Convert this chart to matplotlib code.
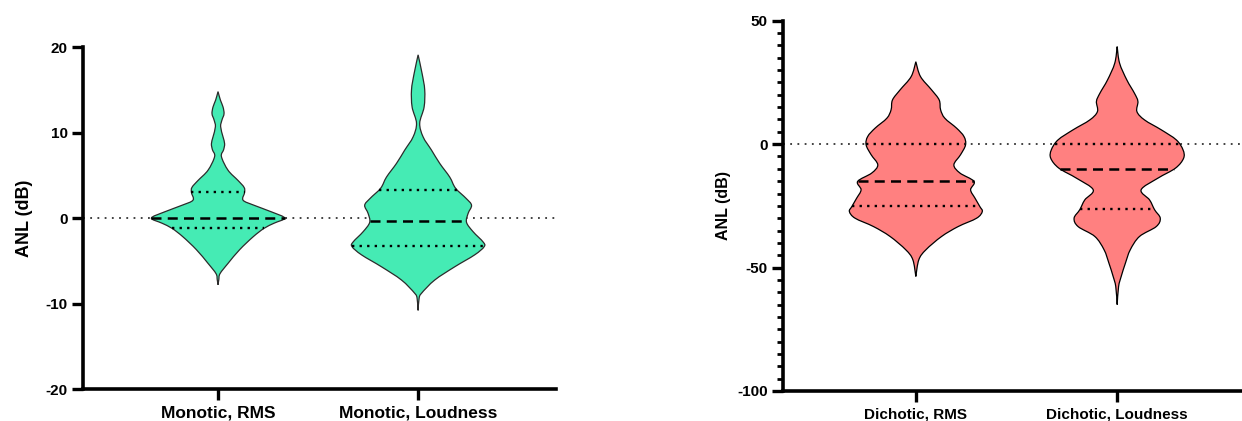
import numpy as np
import matplotlib.pyplot as plt
from matplotlib.path import Path
from matplotlib.patches import PathPatch
from matplotlib.ticker import MultipleLocator

plt.rcParams['font.family'] = ['Liberation Sans', 'DejaVu Sans']
plt.rcParams['font.weight'] = 'bold'
plt.rcParams['axes.unicode_minus'] = False

# --- data: outline of each violin (value, half width) ---
mono_labels = ['Monotic, RMS', 'Monotic, Loudness']
dich_labels = ['Dichotic, RMS', 'Dichotic, Loudness']

mono_rms_y = [-7.8, -7.2, -6.5, -5.3, -3.7, -2.2, -1.2, -0.6, 0.0, 0.7, 1.5, 2.1, 3.0,
              3.6, 4.4, 5.6, 7.2, 8.0, 8.7, 9.5, 10.7, 11.5, 12.2, 13.0, 13.8, 14.8]
mono_rms_w = [0.0, 0.004, 0.01, 0.05, 0.108, 0.175, 0.23, 0.28, 0.333, 0.27, 0.18, 0.125, 0.133,
              0.13, 0.10, 0.05, 0.017, 0.028, 0.033, 0.025, 0.013, 0.02, 0.03, 0.025, 0.012, 0.0]
mono_rms_q = [-1.2, 0.0, 3.0]   # Q1, median, Q3

mono_loud_y = [-10.8, -9.4, -8.8, -7.25, -5.7, -4.3, -3.35, -2.8, -1.6, -0.5, 0.55, 1.5, 2.3,
               3.5, 4.8, 6.4, 7.95, 9.5, 11.1, 13.0, 15.0, 16.9, 19.1]
mono_loud_w = [0.0, 0.005, 0.017, 0.083, 0.183, 0.283, 0.33, 0.325, 0.275, 0.242, 0.25, 0.267, 0.24,
               0.187, 0.158, 0.108, 0.067, 0.025, 0.008, 0.03, 0.033, 0.02, 0.0]
mono_loud_q = [-3.3, -0.4, 3.3]

dich_rms_y = [-53.6, -46.8, -42.8, -37.4, -33.4, -30, -27.3, -25.3, -21.9, -18.5, -15.1, -11.7,
              -8.4, -4.3, -0.3, 3.1, 6.5, 10.5, 13.9, 17.9, 22, 27.4, 33.4]
dich_rms_w = [0.0, 0.015, 0.05, 0.128, 0.21, 0.302, 0.33, 0.318, 0.294, 0.272, 0.289, 0.219,
              0.189, 0.222, 0.247, 0.239, 0.202, 0.144, 0.123, 0.116, 0.078, 0.023, 0.0]
dich_rms_q = [-25, -15, 0]

dich_loud_y = [-65, -57.7, -53.6, -48.2, -42.8, -37.4, -33.4, -30, -26.6, -22.6, -18.5, -13.8,
               -9.7, -5.7, -2.3, 1.7, 5.8, 9.8, 13.2, 17.3, 20.6, 26, 32.8, 39.5]
dich_loud_w = [0.0, 0.007, 0.02, 0.041, 0.065, 0.111, 0.194, 0.214, 0.186, 0.161, 0.119, 0.202,
               0.29, 0.33, 0.327, 0.294, 0.219, 0.136, 0.098, 0.103, 0.086, 0.048, 0.012, 0.0]
dich_loud_q = [-26.3, -10, 0]

green = '#45EBB4'
salmon = '#FF8080'


def spline_segments(pts):
    # Catmull-Rom through the points, written as cubic Bezier pieces
    P = np.vstack([pts[0], pts, pts[-1]])
    verts = []
    for i in range(1, len(P) - 2):
        p0, p1, p2, p3 = P[i - 1], P[i], P[i + 1], P[i + 2]
        verts += [p1 + (p2 - p0) / 6, p2 - (p3 - p1) / 6, p2]
    return verts


def draw_violin(ax, pos, ys, ws, quart, color, edge):
    ys = np.asarray(ys, float)
    ws = np.asarray(ws, float)
    right = np.column_stack([pos + ws, ys])
    left = np.column_stack([pos - ws, ys])[::-1]
    verts = [right[0]] + spline_segments(right) + spline_segments(left) + [right[0]]
    codes = [Path.MOVETO] + [Path.CURVE4] * (len(verts) - 2) + [Path.CLOSEPOLY]
    ax.add_patch(PathPatch(Path(verts, codes), facecolor=color, edgecolor=edge,
                           linewidth=0.9, zorder=2))
    styles = [((0, (1, 2.2)), 1.7), ((0, (4, 2.5)), 1.8), ((0, (1, 2.2)), 1.7)]
    for val, (ls, lw) in zip(quart, styles):
        hw = np.interp(val, ys, ws)
        ax.plot([pos - hw, pos + hw], [val, val], color='black', ls=ls, lw=lw,
                zorder=3, solid_capstyle='butt', dash_capstyle='butt')


def style_axes(ax, labels, label_size):
    for s in ['top', 'right']:
        ax.spines[s].set_visible(False)
    for s in ['left', 'bottom']:
        ax.spines[s].set_linewidth(2.6)
    ax.set_xticks(range(len(labels)))
    ax.set_xticklabels(labels, fontsize=label_size, fontweight='bold')
    ax.tick_params(axis='both', which='major', length=8, width=2.4, labelsize=11, pad=3)
    ax.tick_params(axis='x', labelsize=label_size, pad=4)
    ax.axhline(0, color='#333333', ls=(0, (1, 3)), lw=1.3, zorder=1)


fig = plt.figure(figsize=(12.42, 4.21), dpi=100)

# left panel: monotic
ax1 = fig.add_axes([0.0668, 0.076, 0.381, 0.812])
draw_violin(ax1, 0, mono_rms_y, mono_rms_w, mono_rms_q, green, '#2b2b2b')
draw_violin(ax1, 1, mono_loud_y, mono_loud_w, mono_loud_q, green, '#2b2b2b')
ax1.set_xlim(-0.675, 1.69)
ax1.set_ylim(-20, 20)
ax1.set_yticks([-20, -10, 0, 10, 20])
style_axes(ax1, mono_labels, 12.5)
ax1.set_ylabel('ANL (dB)', fontsize=13, fontweight='bold')
ax1.yaxis.set_label_coords(-0.106, 0.5)

# right panel: dichotic
ax2 = fig.add_axes([0.6304, 0.0713, 0.3696, 0.8795])
draw_violin(ax2, 0, dich_rms_y, dich_rms_w, dich_rms_q, salmon, 'black')
draw_violin(ax2, 1, dich_loud_y, dich_loud_w, dich_loud_q, salmon, 'black')
ax2.set_xlim(-0.66, 1.62)
ax2.set_ylim(-100, 50)
ax2.set_yticks([-100, -50, 0, 50])
ax2.yaxis.set_minor_locator(MultipleLocator(5))
style_axes(ax2, dich_labels, 11)
ax2.tick_params(axis='y', which='minor', length=4.5, width=2.0)
ax2.set_ylabel('ANL (dB)', fontsize=11.5, fontweight='bold')
ax2.yaxis.set_label_coords(-0.113, 0.5)

fig.savefig('out.png', dpi=100)
